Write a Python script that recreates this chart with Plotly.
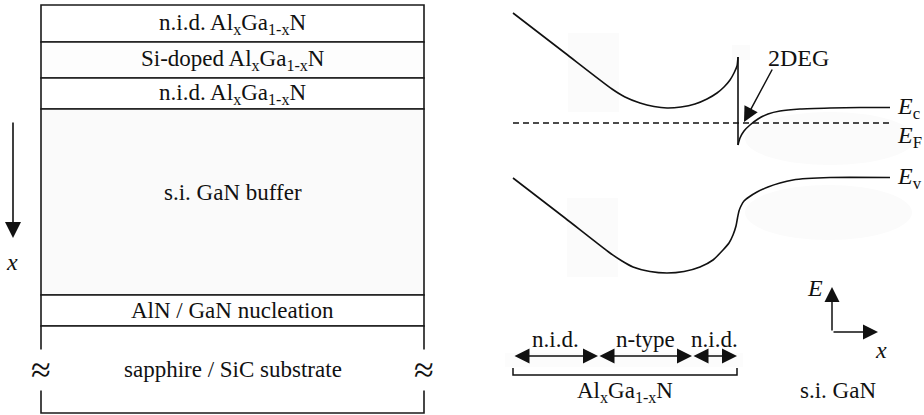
import plotly.graph_objects as go

# ---- layer stack (left panel) ----
layer_labels = [
    "n.i.d. Al<sub>x</sub>Ga<sub>1-x</sub>N",
    "Si-doped Al<sub>x</sub>Ga<sub>1-x</sub>N",
    "n.i.d. Al<sub>x</sub>Ga<sub>1-x</sub>N",
    "s.i. GaN buffer",
    "AlN / GaN nucleation",
    "sapphire / SiC substrate",
]
layer_bounds = [5, 42, 78, 109, 295, 326, 413]   # depth of each interface
layer_fills = ["#ffffff", "#fdfdfd", "#ffffff", "#fafafa", "#ffffff", "#ffffff"]
stack_left, stack_right = 41, 424

# ---- band diagram (right panel) ----
ec_algan_x = [513, 565, 612, 625, 640, 654, 667, 681, 695, 707, 717, 724, 730, 734, 737, 738]
ec_algan_y = [13, 53, 89, 97, 103, 106.5, 108, 107, 104, 99, 93, 87, 80, 73, 66, 57]
ec_gan_x = [738, 740, 744, 750, 758, 768, 780, 800, 830, 860, 890]
ec_gan_y = [145, 138, 131, 125, 119, 114, 111, 109, 108, 107.5, 107.5]
ev_x = [513, 565, 610, 622, 633, 650, 667, 684, 700, 713, 723, 729, 733, 736, 737.5,
        739, 741, 744, 749, 757, 768, 780, 793, 807, 830, 890]
ev_y = [178, 218, 253, 261, 267, 271.5, 273, 271.5, 267, 260, 250, 243, 235, 226, 218,
        211, 206, 201, 197, 192, 187, 183, 180, 178.5, 177.5, 177.5]
ef_level = 123
band_x0, band_x1 = 513, 890
interface_x = 738

# region markers below the band diagram
region_edges = [513, 598, 692, 737]
region_names = ["n.i.d.", "n-type", "n.i.d."]

fig = go.Figure()

# layer rectangles
for i, fill in enumerate(layer_fills):
    fig.add_shape(type="rect", x0=stack_left, x1=stack_right,
                  y0=layer_bounds[i], y1=layer_bounds[i + 1],
                  fillcolor=fill, line=dict(color="#1a1a1a", width=1.6),
                  layer="below")

# faint haze patches
haze = dict(fillcolor="#fbfbfb", line=dict(width=0), layer="below")
fig.add_shape(type="rect", x0=568, x1=619, y0=33, y1=112, **haze)
fig.add_shape(type="rect", x0=567, x1=618, y0=198, y1=277, **haze)
fig.add_shape(type="rect", x0=732, x1=750, y0=45, y1=60, **haze)
fig.add_shape(type="circle", x0=745, x1=915, y0=112, y1=165, **haze)
fig.add_shape(type="circle", x0=745, x1=912, y0=185, y1=240, **haze)
fig.add_shape(type="rect", x0=505, x1=743, y0=353, y1=367,
              fillcolor="#fcfcfc", line=dict(width=0), layer="below")

line_style = dict(color="#111111", width=1.6)
fig.add_trace(go.Scatter(x=ec_algan_x, y=ec_algan_y, mode="lines",
                         line=dict(shape="spline", smoothing=0.6, **line_style)))
fig.add_trace(go.Scatter(x=[interface_x, interface_x],
                         y=[ec_algan_y[-1], ec_gan_y[0]], mode="lines",
                         line=line_style))
fig.add_trace(go.Scatter(x=ec_gan_x, y=ec_gan_y, mode="lines",
                         line=dict(shape="spline", smoothing=0.6, **line_style)))
fig.add_trace(go.Scatter(x=ev_x, y=ev_y, mode="lines",
                         line=dict(shape="spline", smoothing=0.6, **line_style)))
fig.add_trace(go.Scatter(x=[band_x0, band_x1], y=[ef_level, ef_level], mode="lines",
                         line=dict(color="#111111", width=1.3, dash="6px,4px")))

# bracket under the AlGaN regions
fig.add_trace(go.Scatter(x=[region_edges[0], region_edges[0], region_edges[-1], region_edges[-1]],
                         y=[368, 375, 375, 368], mode="lines",
                         line=dict(color="#111111", width=1.5)))

font = dict(family='"Liberation Serif", "Times New Roman", serif', color="#111111")
ann = []

# layer labels
for i, lab in enumerate(layer_labels):
    mid = (layer_bounds[i] + layer_bounds[i + 1]) / 2
    ann.append(dict(x=(stack_left + stack_right) / 2, y=mid, text=lab,
                    showarrow=False, font=dict(size=23, **font),
                    yshift=10 if lab.startswith("s.i.") else 0))

# break marks on the substrate edges
for xb in (stack_left, stack_right):
    ann.append(dict(x=xb, y=370, text="≈", showarrow=False, bgcolor="#ffffff",
                    font=dict(size=36, **font), borderpad=0))

# depth arrow
ann.append(dict(x=13, y=238, ax=13, ay=121, axref="x", ayref="y", text="",
                showarrow=True, arrowhead=2, arrowsize=2.0, arrowwidth=1.6,
                arrowcolor="#111111"))
ann.append(dict(x=12, y=262, text="<i>x</i>", showarrow=False,
                font=dict(size=24, **font)))

# band labels
for yl, sub in ((108, "c"), (137, "F"), (178, "v")):
    ann.append(dict(x=895, y=yl, text=f"<i>E</i><sub>{sub}</sub>", showarrow=False,
                    xanchor="left", font=dict(size=24, **font)))

# 2DEG pointer
ann.append(dict(x=744, y=122, ax=773, ay=68, axref="x", ayref="y", text="",
                showarrow=True, arrowhead=2, arrowsize=2.0, arrowwidth=1.5,
                arrowcolor="#111111"))
ann.append(dict(x=798, y=58, text="2DEG", showarrow=False,
                font=dict(size=24, **font)))

# region double arrows and names
for i, name in enumerate(region_names):
    a, b = region_edges[i], region_edges[i + 1]
    ann.append(dict(x=b, y=356, ax=a, ay=356, axref="x", ayref="y", text="",
                    showarrow=True, arrowhead=2, arrowside="end+start",
                    arrowsize=2.0, arrowwidth=1.5, arrowcolor="#111111"))
    ann.append(dict(x=(a + b) / 2, y=339, text=name, showarrow=False,
                    font=dict(size=23, **font)))

ann.append(dict(x=625, y=392, text="Al<sub>x</sub>Ga<sub>1-x</sub>N", showarrow=False,
                font=dict(size=23, **font)))
ann.append(dict(x=838, y=390, text="s.i. GaN", showarrow=False,
                font=dict(size=23, **font)))

# E / x axes glyph
ann.append(dict(x=832, y=287, ax=832, ay=332, axref="x", ayref="y", text="",
                showarrow=True, arrowhead=2, arrowsize=2.0, arrowwidth=1.5,
                arrowcolor="#111111"))
ann.append(dict(x=878, y=332, ax=832, ay=332, axref="x", ayref="y", text="",
                showarrow=True, arrowhead=2, arrowsize=2.0, arrowwidth=1.5,
                arrowcolor="#111111"))
ann.append(dict(x=815, y=288, text="<i>E</i>", showarrow=False,
                font=dict(size=24, **font)))
ann.append(dict(x=881, y=350, text="<i>x</i>", showarrow=False,
                font=dict(size=24, **font)))

for a in ann:
    a.setdefault("xref", "x")
    a.setdefault("yref", "y")

fig.update_layout(
    width=924, height=415, autosize=False,
    margin=dict(l=0, r=0, t=0, b=0),
    paper_bgcolor="#ffffff", plot_bgcolor="#ffffff",
    showlegend=False, annotations=ann,
    font=dict(family='"Liberation Serif", serif'),
    xaxis=dict(range=[0, 924], visible=False, fixedrange=True),
    yaxis=dict(range=[415, 0], visible=False, fixedrange=True),
)

fig.write_html("out.html", config={"displayModeBar": False})
